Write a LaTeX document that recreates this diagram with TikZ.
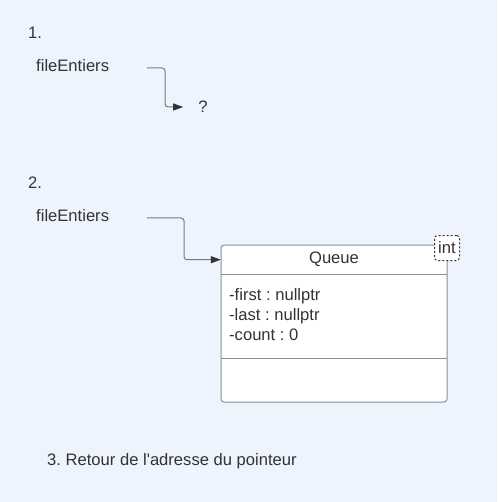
\documentclass[tikz,border=0pt]{standalone}
\usepackage{fontspec}
\setmainfont{Liberation Sans}
\usetikzlibrary{arrows.meta}
\definecolor{bgblue}{HTML}{EEF4FD}
\definecolor{txtgray}{HTML}{333333}
\definecolor{linegray}{HTML}{7A7A7A}
\definecolor{boxgray}{HTML}{8A8E96}
\frenchspacing
\begin{document}
\begin{tikzpicture}[x=1pt,y=-1pt,
        every node/.style={text=txtgray, font=\fontsize{16.6}{20}\selectfont, inner sep=0pt},
        conn/.style={draw=linegray, line width=1pt, rounded corners=3pt,
            -{Triangle[length=10pt,width=7pt,color=txtgray]}},
        boxline/.style={draw=boxgray, line width=1pt}]
        % Background
        \fill[bgblue] (0,0) rectangle (497,502);
        \useasboundingbox (0,0) rectangle (497,502);
        % Step 1: pointer not yet set
        \node[anchor=west] (n1) at (28,33) {1.};
        \node[anchor=west] (fe1) at (36,66) {fileEntiers};
        \node (q) at (203,107) {?};
        \coordinate (s1) at (147,68);
        \draw[conn, shorten >=15pt] (s1) -- (165,68) |- (q.west);
        % Step 2: pointer to the new Queue
        \node[anchor=west] (n2) at (28,183) {2.};
        \node[anchor=west] (fe2) at (36,216) {fileEntiers};
        \node[draw=boxgray, fill=white, rounded corners=3pt, line width=1pt,
            minimum width=226pt, minimum height=157pt] (queue) at (334,323.5) {};
        \node[minimum width=226pt, minimum height=30pt, anchor=north] (qhead) at (queue.north) {Queue};
        \node[minimum width=226pt, minimum height=83pt, anchor=north] (qattr) at (qhead.south) {};
        \draw[boxline] (qhead.south west) -- (qhead.south east);
        \draw[boxline] (qattr.south west) -- (qattr.south east);
        \node[anchor=west, align=left] (attrs) at (229,315) {-first : nullptr\\-last : nullptr\\-count : 0};
        % Template parameter (dashed)
        \node[draw=txtgray, dash pattern=on 2pt off 2pt, fill=white, rounded corners=3pt, line width=1pt,
            minimum width=25pt, minimum height=25pt] (tpl) at (447,248) {int};
        \coordinate (s2) at (147,218);
        \draw[conn] (s2) -- (184,218) |- (qhead.west);
        % Step 3
        \node[anchor=west] (n3) at (47,461) {3. Retour de l\textquotesingle adresse du pointeur};
\end{tikzpicture}
\end{document}
